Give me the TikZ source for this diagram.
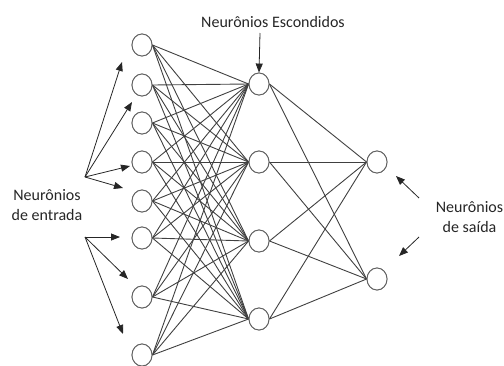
\documentclass[tikz,border=0pt]{standalone}
\usepackage{fontspec}
\setmainfont{Carlito}
\usetikzlibrary{shapes.geometric,arrows.meta}
\tikzset{
  neuron/.style={ellipse,draw=black!62,line width=0.9bp,fill=white,minimum width=20bp,minimum height=22bp,inner sep=0pt},
  edge/.style={draw=black!75,line width=0.9bp},
  pointer/.style={draw=black!85,line width=0.8bp,-{Triangle[length=9bp,width=7bp]}},
  lbl/.style={font=\fontsize{16bp}{20bp}\selectfont,text=black!85,align=center,inner sep=0pt}
}
\begin{document}
\begin{tikzpicture}[x=1bp,y=-1bp]
\useasboundingbox (0,0) rectangle (504,365);
% input neurons
\foreach \n/\y in {1/45,2/85,3/123,4/162,5/201,6/238,7/297,8/355}
  \node[neuron] (i\n) at (142,\y) {};
% hidden neurons
\foreach \n/\y in {1/84,2/162,3/241,4/319}
  \node[neuron] (h\n) at (259,\y) {};
% output neurons
\node[neuron] (o1) at (377,162) {};
\node[neuron] (o2) at (377,279) {};
% connections
\foreach \i in {1,...,8}
  \foreach \j in {1,...,4}
    \draw[edge] (i\i.east) -- (h\j.west);
\foreach \j in {1,...,4}
  \foreach \k in {1,2}
    \draw[edge] (h\j.east) -- (o\k.west);
% redraw neurons on top
\foreach \n/\y in {1/45,2/85,3/123,4/162,5/201,6/238,7/297,8/355}
  \node[neuron] at (142,\y) {};
\foreach \n/\y in {1/84,2/162,3/241,4/319}
  \node[neuron] at (259,\y) {};
\node[neuron] at (377,162) {};
\node[neuron] at (377,279) {};
% labels
\node[lbl] (lin) at (47,205) {Neurônios\\de entrada};
\node[lbl] (lhid) at (273,22) {Neurônios Escondidos};
\node[lbl] (lout) at (469.5,217) {Neurônios\\de saída};
% pointer arrows
\coordinate (pa) at (85,177);
\coordinate (pb) at (85,237);
\coordinate (ph) at (260,33);
\coordinate (po1) at (419,198);
\coordinate (po2) at (419,237);
\draw[pointer] (pa) -- (122,62);
\draw[pointer] (pa) -- (132,102);
\draw[pointer] (pa) -- (130,166);
\draw[pointer] (pa) -- (123,188);
\draw[pointer] (pb) -- (120,237);
\draw[pointer] (pb) -- (128,279);
\draw[pointer] (pb) -- (123,334);
\draw[pointer] (ph) -- (h1.north);
\draw[pointer] (po1) -- (396,176);
\draw[pointer] (po2) -- (399,256);
\end{tikzpicture}
\end{document}
